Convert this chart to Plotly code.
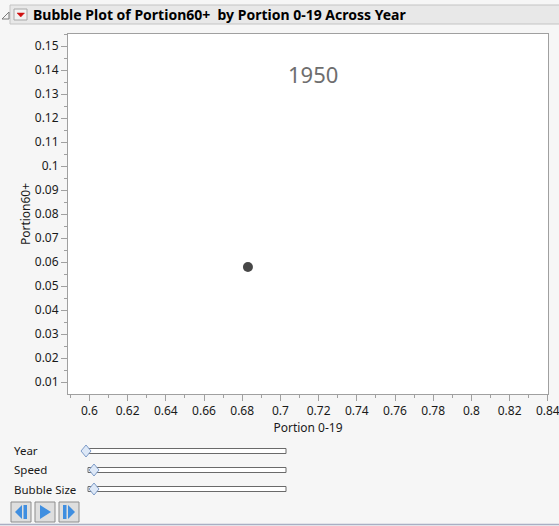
import plotly.graph_objects as go

# Data for the animation frame shown
years = [1950]
portion_0_19 = [0.683]
portion_60_plus = [0.058]

x_ticks = [0.6, 0.62, 0.64, 0.66, 0.68, 0.7, 0.72, 0.74, 0.76, 0.78, 0.8, 0.82, 0.84]
x_tick_text = ["0.6", "0.62", "0.64", "0.66", "0.68", "0.7", "0.72", "0.74",
               "0.76", "0.78", "0.8", "0.82", "0.84"]
y_ticks = [round(0.01 * i, 2) for i in range(1, 16)]
y_tick_text = ["0.01", "0.02", "0.03", "0.04", "0.05", "0.06", "0.07", "0.08",
               "0.09", "0.1", "0.11", "0.12", "0.13", "0.14", "0.15"]

W, H = 559, 526
L, R, T, B = 68, 548, 34, 394  # plot frame in pixels
FONT = "Noto Sans, Open Sans, DejaVu Sans, sans-serif"


def px(x):
    return (x - L) / (R - L)


def py(y):
    return (B - y) / (B - T)


fig = go.Figure()
fig.add_trace(go.Scatter(
    x=portion_0_19, y=portion_60_plus, mode="markers",
    marker=dict(size=10, color="#474747", line=dict(width=0)),
    hoverinfo="skip", showlegend=False, cliponaxis=False,
))

shapes = []
annotations = []

# Header bar
shapes.append(dict(type="rect", xref="paper", yref="paper",
                   x0=px(10), x1=px(562), y0=py(5), y1=py(24),
                   fillcolor="#e8e8e8", line=dict(color="#c4c4c4", width=1), layer="below"))
# Disclosure triangle
shapes.append(dict(type="path", xref="paper", yref="paper",
                   path=f"M {px(2)} {py(19)} L {px(9)} {py(19)} L {px(9)} {py(12)} Z",
                   fillcolor="#f4f4f4", line=dict(color="#7a7a7a", width=1)))
# Red-arrow menu button
shapes.append(dict(type="rect", xref="paper", yref="paper",
                   x0=px(14), x1=px(27), y0=py(9), y1=py(20),
                   fillcolor="#f2f2f2", line=dict(color="#a8a8a8", width=1)))
shapes.append(dict(type="path", xref="paper", yref="paper",
                   path=f"M {px(17)} {py(13)} L {px(24.5)} {py(13)} L {px(20.75)} {py(17)} Z",
                   fillcolor="#d01010", line=dict(color="#d01010", width=0.5)))
annotations.append(dict(text="<b>Bubble Plot of Portion60+  by Portion 0-19 Across Year</b>",
                        xref="paper", yref="paper", x=px(31), y=py(14.5),
                        xanchor="left", yanchor="middle", showarrow=False,
                        font=dict(family=FONT, size=14, color="#000000")))

# Year label inside the frame
annotations.append(dict(text=str(years[0]), xref="paper", yref="paper",
                        x=px(313), y=py(74), xanchor="center", yanchor="middle",
                        showarrow=False, font=dict(family=FONT, size=22, color="#6e6e6e")))

# Slider controls
sliders_spec = [("Year", 451, 86, 86), ("Speed", 470, 88, 94), ("Bubble Size", 489, 88, 94)]
for label, yc, x_start, thumb in sliders_spec:
    annotations.append(dict(text=label, xref="paper", yref="paper",
                            x=px(12), y=py(yc), xanchor="left", yanchor="middle",
                            showarrow=False, font=dict(family=FONT, size=11.5, color="#1a1a1a")))
    shapes.append(dict(type="rect", xref="paper", yref="paper",
                       x0=px(x_start), x1=px(286), y0=py(yc - 2.5), y1=py(yc + 2.5),
                       fillcolor="#ffffff", line=dict(color="#6a6a6a", width=1)))
    shapes.append(dict(type="path", xref="paper", yref="paper",
                       path=(f"M {px(thumb)} {py(yc - 6)} L {px(thumb + 5)} {py(yc)} "
                             f"L {px(thumb)} {py(yc + 6)} L {px(thumb - 5)} {py(yc)} Z"),
                       fillcolor="#dde8f7", line=dict(color="#7f9cc8", width=1)))

# Playback buttons
blue = "#3f8ee0"
for x0 in (11, 35, 59):
    shapes.append(dict(type="rect", xref="paper", yref="paper",
                       x0=px(x0), x1=px(x0 + 20), y0=py(502), y1=py(522),
                       fillcolor="#dedede", line=dict(color="#8c8c8c", width=1)))
# step back: left triangle + bar
shapes.append(dict(type="path", xref="paper", yref="paper",
                   path=f"M {px(22)} {py(505)} L {px(22)} {py(519)} L {px(15)} {py(512)} Z",
                   fillcolor=blue, line=dict(width=0)))
shapes.append(dict(type="rect", xref="paper", yref="paper",
                   x0=px(23.5), x1=px(27), y0=py(505), y1=py(519),
                   fillcolor=blue, line=dict(width=0)))
# play
shapes.append(dict(type="path", xref="paper", yref="paper",
                   path=f"M {px(40)} {py(505)} L {px(40)} {py(519)} L {px(51)} {py(512)} Z",
                   fillcolor=blue, line=dict(width=0)))
# step forward: bar + right triangle
shapes.append(dict(type="rect", xref="paper", yref="paper",
                   x0=px(63), x1=px(66.5), y0=py(505), y1=py(519),
                   fillcolor=blue, line=dict(width=0)))
shapes.append(dict(type="path", xref="paper", yref="paper",
                   path=f"M {px(68)} {py(505)} L {px(68)} {py(519)} L {px(75)} {py(512)} Z",
                   fillcolor=blue, line=dict(width=0)))
# bottom edge line
shapes.append(dict(type="line", xref="paper", yref="paper",
                   x0=px(0), x1=px(W), y0=py(524.5), y1=py(524.5),
                   line=dict(color="#a9afc4", width=1.5)))

axis_common = dict(
    showgrid=False, zeroline=False, showline=True, linecolor="#a0a0a0", linewidth=1,
    mirror=True, ticks="outside", ticklen=6, tickcolor="#a0a0a0", tickwidth=1,
    tickfont=dict(family=FONT, size=12, color="#1a1a1a"),
    ticklabeloverflow="allow", automargin=False,
)

fig.update_layout(
    width=W, height=H,
    margin=dict(l=L, r=W - R, t=T, b=H - B, pad=0),
    paper_bgcolor="#f6f6f6", plot_bgcolor="#ffffff",
    font=dict(family=FONT, size=12, color="#1a1a1a"),
    xaxis=dict(range=[0.5888, 0.8401], tickvals=x_ticks, ticktext=x_tick_text,
               minor=dict(ticks="outside", dtick=0.01, tick0=0.6, ticklen=3, tickcolor="#a0a0a0"),
               title=dict(text="Portion 0-19", standoff=0,
                          font=dict(family=FONT, size=12, color="#1a1a1a")),
               **axis_common),
    yaxis=dict(range=[0.0051, 0.155], tickvals=y_ticks, ticktext=y_tick_text,
               minor=dict(ticks="outside", dtick=0.01, tick0=0.005, ticklen=3, tickcolor="#a0a0a0"),
               title=dict(text="Portion60+", standoff=1,
                          font=dict(family=FONT, size=12, color="#1a1a1a")),
               **axis_common),
    shapes=shapes,
    annotations=annotations,
    showlegend=False,
)

fig.write_html("out.html")
